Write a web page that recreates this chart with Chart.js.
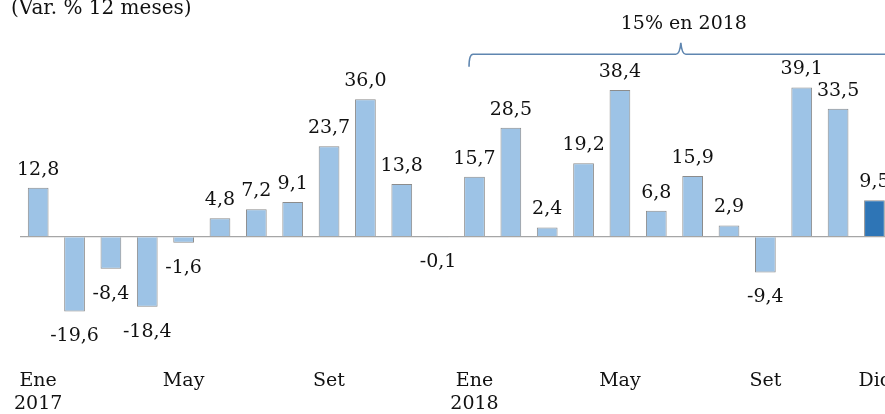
<!DOCTYPE html>
<html>
<head>
<meta charset="utf-8">
<script src="https://cdn.jsdelivr.net/npm/chart.js@4"></script>
<style>
  html, body { margin: 0; padding: 0; background: #fff; overflow: hidden; }
  #c { position: absolute; left: 0; top: 0; width: 900px; height: 428px; }
</style>
</head>
<body>
<canvas id="c" width="900" height="428"></canvas>
<script>
const months = ['Ene','Feb','Mar','Abr','May','Jun','Jul','Ago','Set','Oct','Nov','Dic',
                'Ene','Feb','Mar','Abr','May','Jun','Jul','Ago','Set','Oct','Nov','Dic'];
const values = [12.8, -19.6, -8.4, -18.4, -1.6, 4.8, 7.2, 9.1, 23.7, 36.0, 13.8, -0.1,
                15.7, 28.5, 2.4, 19.2, 38.4, 6.8, 15.9, 2.9, -9.4, 39.1, 33.5, 9.5];
const tickLabels = [['Ene','2017'],'','','','May','','','','Set','','','',
                    ['Ene','2018'],'','','','May','','','','Set','','','Dic'];
const titleText = '(Var. % 12 meses)';
const bracketText = '15% en 2018';
const bracketFrom = 12;   // first category covered by the bracket (Ene 2018)
const bracketTo = 23;     // last category covered (Dic 2018)
const highlightIndex = 23;

const FONT = '"DejaVu Serif", serif';
const light = '#9DC3E6', dark = '#2E75B6';

const labelPlugin = {
  id: 'valueLabels',
  afterDatasetsDraw(chart) {
    const ctx = chart.ctx;
    const meta = chart.getDatasetMeta(0);
    ctx.save();
    ctx.font = '19px ' + FONT;
    ctx.fillStyle = '#111';
    ctx.textAlign = 'center';
    ctx.textBaseline = 'middle';
    meta.data.forEach((bar, i) => {
      const v = values[i];
      const txt = v.toFixed(1).replace('.', ',');
      const y = v >= 0 ? bar.y - 18 : bar.y + 25;
      ctx.fillText(txt, bar.x, y);
    });
    ctx.restore();
  }
};

const decoPlugin = {
  id: 'deco',
  afterDraw(chart) {
    const ctx = chart.ctx;
    const xs = chart.scales.x, ys = chart.scales.y;
    const cw = xs.getPixelForValue(1) - xs.getPixelForValue(0);
    // title
    ctx.save();
    ctx.font = '20px ' + FONT;
    ctx.fillStyle = '#111';
    ctx.textAlign = 'left';
    ctx.textBaseline = 'alphabetic';
    ctx.fillText(titleText, 11, 14);
    // bracket
    const xl = xs.getPixelForValue(bracketFrom) - cw * 0.15;
    const xr = xs.getPixelForValue(bracketTo) + cw * 0.5;
    const xm = (xl + xr) / 2;
    const yh = ys.getPixelForValue(47.8);
    const yEnd = ys.getPixelForValue(44.5);
    const yTip = ys.getPixelForValue(50.8);
    ctx.strokeStyle = '#5F86B0';
    ctx.lineWidth = 1.6;
    ctx.beginPath();
    ctx.moveTo(xl, yEnd);
    ctx.quadraticCurveTo(xl, yh, xl + 4, yh);
    ctx.lineTo(xm - 5, yh);
    ctx.quadraticCurveTo(xm - 1, yh, xm, yTip);
    ctx.quadraticCurveTo(xm + 1, yh, xm + 5, yh);
    ctx.lineTo(xr - 4, yh);
    ctx.quadraticCurveTo(xr, yh, xr, yEnd);
    ctx.stroke();
    ctx.font = '19px ' + FONT;
    ctx.textAlign = 'center';
    ctx.textBaseline = 'middle';
    ctx.fillText(bracketText, xm + 3, ys.getPixelForValue(55.8));
    ctx.restore();
  }
};

new Chart(document.getElementById('c'), {
  type: 'bar',
  data: {
    labels: months,
    datasets: [{
      data: values,
      backgroundColor: values.map((v, i) => i === highlightIndex ? dark : light),
      borderColor: '#8C8C8C',
      borderWidth: 1,
      barPercentage: 0.57,
      categoryPercentage: 1.0
    }]
  },
  options: {
    responsive: false,
    maintainAspectRatio: false,
    animation: false,
    layout: { padding: { left: 20, right: 4, top: 0, bottom: 2 } },
    plugins: { legend: { display: false }, tooltip: { enabled: false } },
    scales: {
      x: {
        grid: { display: false },
        border: { display: false },
        ticks: {
          autoSkip: false,
          maxRotation: 0,
          padding: 9.5,
          color: '#111',
          font: { family: FONT, size: 19, lineHeight: 1.26 },
          callback: (val, i) => tickLabels[i]
        }
      },
      y: {
        min: -30,
        max: 62,
        afterBuildTicks: axis => { axis.ticks = [{ value: 0 }]; },
        ticks: { display: false },
        border: { display: false },
        grid: { drawTicks: false, color: '#A6A6A6', lineWidth: 1.2 }
      }
    }
  },
  plugins: [labelPlugin, decoPlugin]
});
</script>
</body>
</html>
